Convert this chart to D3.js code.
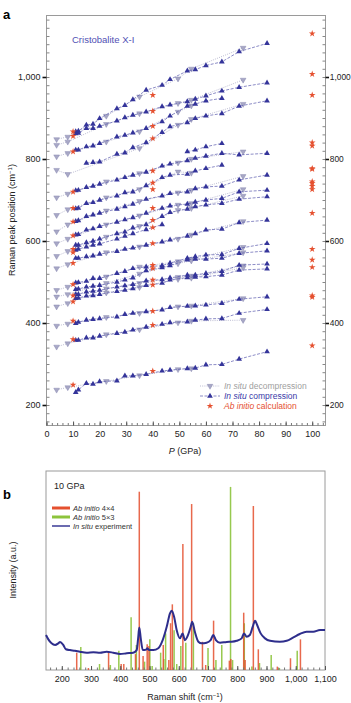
<!DOCTYPE html>
<html>
<head>
<meta charset="utf-8">
<script src="https://cdn.jsdelivr.net/npm/d3@7"></script>
<style>
  body { margin: 0; background: #fff; }
  svg { font-family: "Liberation Sans", Arial, sans-serif; }
</style>
</head>
<body>
<svg id="chart" width="351" height="703"></svg>
<script>
// ---- Panel a: Raman peak positions vs pressure ----
const compPressure = [11, 12, 15, 17.5, 20, 26.5, 29.5, 32.5, 37.5, 43.5, 46.5, 53, 56, 60, 66, 72.5, 83];
const decompPressure = [3.8, 8, 22.5, 35, 49.5, 54.5, 74];

// one row per Raman mode, in situ compression (null = not observed)
const compPeaks = [
  [867, 868, 883, 885, 899, 923, 931, 945, 968, 980, 994, 1015, 1018, 1028, 1037, 1062, 1082],
  [862, 863, 875, 875, 880, 893, 901, 907, 915, 928, 932, 940, 946, 954, 966, 975, 986],
  [822, 822, 830, 832, 838, 854, 858, 864, 875, 891, 905, 929, 934, 942, 948, null, null],
  [null, null, 790, 792, 793, 812, 815, 828, 840, 865, 879, 889, 899, 905, 911, 929, 942],
  [null, null, null, null, null, null, null, null, null, null, null, 818, 822, 830, 838, null, null],
  [723, 724, 731, 734, 739, 749, 755, 761, 768, 783, 788, 796, 802, 807, 814, 810, 814],
  [679, 680, 692, 694, 700, 710, 718, 720, 735, 755, 761, 763, 771, 777, 785, null, null],
  [648, 650, 660, 664, 668, 678, 684, 690, 702, 710, 716, 720, 728, 732, 734, 749, 761],
  [615, 616, 627, 630, 636, 646, 652, 657, 668, 680, 686, 690, 695, 700, 704, 720, 724],
  [590, 590, 596, 600, 605, 618, 622, 632, 640, 660, 670, 678, 684, 688, 692, 702, 708],
  [578, 580, 586, 590, 593, 605, 612, 618, 628, 640, null, null, null, null, null, null, null],
  [558, 558, 562, 564, 568, 575, 580, 583, 590, 598, 603, 612, 618, 627, 629, 645, 651],
  [498, 499, 502, 509, 509, 521, 526, 533, 537, 540, 546, 558, 562, 566, 567, 582, 594],
  [482, 483, 488, 490, 492, 500, 505, 510, 528, 535, 540, 554, 556, 556, 558, 570, 576],
  [470, 470, 476, 478, 480, 488, 491, 494, 503, 506, 510, 517, 517, 521, 526, 541, 544],
  [460, 461, 466, 467, 470, 477, 480, 484, 492, 497, 505, 511, 512, 513, 517, 529, 532],
  [399, 402, 407, 409, 411, 415, 421, 424, 428, 432, 438, 441, 442, 444, 448, 458, 464],
  [358, 358, 364, 364, 368, 375, 378, 383, 390, 397, 401, 403, 407, 410, 411, 424, 433],
  [231, 237, 253, 251, 257, 259, 271, 271, 275, 283, 285, 289, 290, 298, 299, 312, 330]
];

// in situ decompression, same modes
const decompPeaks = [
  [848, 854, 905, 952, 996, 1020, 1071],
  [834, 842, 885, 911, 936, 944, 993],
  [806, 814, 842, 867, 915, 930, null],
  [773, 763, null, 826, 883, 897, 934],
  [],
  [706, 715, 745, 765, 791, 800, 818],
  [663, 677, 706, 726, 769, 766, null],
  [623, 640, 674, 697, 718, 724, 758],
  [594, 605, 640, 662, 688, 692, 726],
  [563, 575, 610, 636, 675, 680, 710],
  [],
  [533, 543, 572, 586, 605, 615, 648],
  [480, 488, 513, 537, 550, 556, 585],
  [464, 470, 497, 520, 545, 552, 572],
  [440, 448, 484, 497, 512, 515, 540],
  [null, null, 474, 487, 507, 510, 535],
  [393, 398, 414, 424, 440, 442, 460],
  [342, 350, 372, 384, 401, 405, 407],
  [237, 243, 258, 272, 287, 289, null]
];

// ab initio calculation
const calcAt10 = [867, 856, 818, 720, 680, 647, 613, 580, 572, 546, 494, 467, 452, 405, 360, 249];
const calcAt40 = [956, 917, 880, 850, 771, 742, 726, 680, 651, 633, 594, 541, 533, 505, 493, 429, 395, 283];
const calcAt100 = [1106, 1007, 956, 840, 832, 777, 775, 745, 741, 734, 726, 668, 580, 554, 536, 467, 463, 345];

const pressureTicks = d3.range(0, 101, 10);
const ramanTicks = [200, 400, 600, 800, 1000];

// ---- Panel b: spectra at 10 GPa ----
const shiftTicks = [200, 300, 400, 500, 600, 700, 800, 900, 1000, 1100];
const red4x4Shift = [251, 291, 360, 403, 412, 452, 465, 478, 492, 498, 547, 566, 572, 578, 614, 644, 681, 692, 719, 773, 778, 822, 827, 855, 872, 937, 982, 1016];
const red4x4Int = [8.7, 1, 8.7, 3, 3, 8, 89.6, 7, 13, 12, 12.6, 5, 23.5, 33, 63.3, 83.4, 14.2, 2.5, 24.8, 4.7, 5.5, 28.8, 5, 82.4, 10.4, 1.7, 5.9, 15.4];
const green5x3Shift = [265, 329, 366, 395, 437, 455, 483, 501, 509, 538, 549, 555, 584, 593, 607, 624, 650, 700, 727, 747, 777, 784, 824, 850, 876, 916, 944, 1005];
const green5x3Int = [11.6, 3, 2.5, 9.7, 26.5, 12.6, 4.2, 15.4, 2, 8.7, 5.5, 18.4, 20, 3, 12, 13.7, 23.6, 11, 5, 12.6, 92, 5, 23.5, 1.7, 3.5, 7.5, 1, 9.7];
const expShift = [146, 154, 165, 177, 188, 194, 205, 214, 228, 245, 262, 285, 308, 331, 353, 376, 399, 422, 444, 456, 461, 465, 470, 477, 490, 492, 499, 513, 530, 545, 559, 570, 576, 584, 593, 604, 613, 621, 630, 641, 646, 655, 667, 678, 695, 709, 718, 727, 741, 764, 781, 798, 815, 823, 832, 843, 853, 861, 868, 880, 895, 912, 946, 969, 992, 1014, 1037, 1060, 1083, 1100];
const expInt = [17.6, 15.4, 13.4, 12.6, 13.4, 14.1, 12.6, 10.4, 10, 9.7, 9.2, 8.7, 8.9, 8.7, 9.2, 8.7, 8, 8.4, 8.7, 10, 15.9, 21.3, 15.9, 10, 10.4, 10.9, 10, 10, 10.9, 15, 21.8, 28.5, 29.8, 26.8, 20, 15.9, 18.4, 15, 17, 21.8, 24.3, 19.2, 14.2, 13.4, 13.7, 15, 17.6, 15, 13.7, 14.1, 14.2, 14.7, 15.9, 18.4, 16.7, 17.6, 21.8, 24.8, 22.6, 18.4, 15.9, 14.7, 14.2, 14.7, 16.4, 18.1, 19.2, 19.2, 20.1, 20.1];

const blue = "#34349a";
const grayMark = "#a8a8c6";
const red = "#e5502f";
const green = "#8cc43c";

const svg = d3.select('#chart');

function richText(g, x, y, parts, size, color, anchor) {
  // parts: [[text, italic], ...]
  let t = g.append('text')
    .attr('x', x).attr('y', y)
    .attr('font-size', size)
    .attr('fill', color)
    .attr('text-anchor', anchor || 'start');
  parts.forEach(p => {
    t.append('tspan').text(p[0]).attr('font-style', p[1] ? 'italic' : 'normal');
  });
  return t;
}

function drawPanelA() {
  let x = d3.scaleLinear().domain([0, 105]).range([46.5, 325.5]);
  let y = d3.scaleLinear().domain([150, 1150]).range([425.5, 15.5]);
  let g = svg.append('g');

  // frame
  g.append('rect')
    .attr('x', 46.5).attr('y', 15.5)
    .attr('width', 279).attr('height', 410)
    .attr('fill', 'none').attr('stroke', '#9a9a9a').attr('stroke-width', 1);

  // bottom axis: minor and major inner ticks
  g.append('g').attr('transform', 'translate(0,425.5)')
    .call(d3.axisBottom(x).tickValues(d3.range(0, 105, 2)).tickSize(-2.5).tickFormat(''))
    .call(a => a.select('.domain').remove())
    .call(a => a.selectAll('line').attr('stroke', '#777'));
  g.append('g').attr('transform', 'translate(0,425.5)')
    .call(d3.axisBottom(x).tickValues(pressureTicks).tickSize(-4).tickPadding(5))
    .call(a => a.select('.domain').remove())
    .call(a => a.selectAll('line').attr('stroke', '#555'))
    .call(a => a.selectAll('text').attr('font-size', 9).attr('fill', '#222')
      .attr('font-family', '"Liberation Sans", Arial, sans-serif'));

  // left and right axes
  [['L', 46.5], ['R', 325.5]].forEach(([side, pos]) => {
    let minorGen = side == 'L' ? d3.axisLeft(y) : d3.axisRight(y);
    g.append('g').attr('transform', `translate(${pos},0)`)
      .call(minorGen.tickValues(d3.range(160, 1150, 20)).tickSize(-3).tickFormat(''))
      .call(a => a.select('.domain').remove())
      .call(a => a.selectAll('line').attr('stroke', '#888'));
    let majorGen = side == 'L' ? d3.axisLeft(y) : d3.axisRight(y);
    g.append('g').attr('transform', `translate(${pos},0)`)
      .call(majorGen.tickValues(ramanTicks)
        .tickSize(side == 'L' ? 4 : 3.5)
        .tickPadding(side == 'L' ? 2 : 0.8)
        .tickFormat(d3.format(',')))
      .call(a => a.select('.domain').remove())
      .call(a => a.selectAll('line').attr('stroke', '#111').attr('stroke-width', 1.6))
      .call(a => a.selectAll('text').attr('font-size', side == 'L' ? 9 : 8.4).attr('fill', '#222')
        .attr('font-family', '"Liberation Sans", Arial, sans-serif'));
  });

  // axis titles
  let yt = g.append('text')
    .attr('transform', 'translate(15,220) rotate(-90)')
    .attr('text-anchor', 'middle').attr('font-size', 9).attr('fill', '#222');
  yt.append('tspan').text('Raman peak position (cm');
  yt.append('tspan').text('−1').attr('font-size', 6).attr('dy', -3.5);
  yt.append('tspan').text(')').attr('dy', 3.5);
  richText(g, 185, 454, [['P', true], [' (GPa)', false]], 9, '#222', 'middle');

  richText(g, 72, 43, [['Cristobalite X-I', false]], 9.5, '#5050b4');

  let line = d3.line().x(d => x(d[0])).y(d => y(d[1]));
  let upTri = d3.symbol(d3.symbolTriangle, 14);
  let star = d3.symbol(d3.symbolStar, 14);

  // decompression: dotted lines + down triangles
  decompPeaks.forEach(row => {
    let pts = row.map((v, i) => [decompPressure[i], v]).filter(d => d[1] != null);
    if (pts.length == 0) return;
    g.append('path').attr('d', line(pts))
      .attr('fill', 'none').attr('stroke', '#a0a0c0')
      .attr('stroke-width', 0.7).attr('stroke-dasharray', '1,1.2');
    g.selectAll(null).data(pts).join('path')
      .attr('d', upTri)
      .attr('transform', d => `translate(${x(d[0])},${y(d[1])}) rotate(180)`)
      .attr('fill', grayMark).attr('stroke', '#7c7caa').attr('stroke-width', 0.4);
  });

  // compression: dashed lines + up triangles
  compPeaks.forEach(row => {
    let pts = row.map((v, i) => [compPressure[i], v]).filter(d => d[1] != null);
    g.append('path').attr('d', line(pts))
      .attr('fill', 'none').attr('stroke', '#5a5aae')
      .attr('stroke-width', 0.7).attr('stroke-dasharray', '3,1.5');
    g.selectAll(null).data(pts).join('path')
      .attr('d', upTri)
      .attr('transform', d => `translate(${x(d[0])},${y(d[1])})`)
      .attr('fill', blue);
  });

  // ab initio stars
  let calc = [];
  calcAt10.forEach(v => calc.push([10, v]));
  calcAt40.forEach(v => calc.push([40, v]));
  calcAt100.forEach(v => calc.push([100, v]));
  g.selectAll(null).data(calc).join('path')
    .attr('d', star)
    .attr('transform', d => `translate(${x(d[0])},${y(d[1])})`)
    .attr('fill', red);

  // legend
  let lg = g.append('g');
  let rows = [
    {y: 386, kind: 'decomp', color: '#a0a0a0', label: [['In situ', true], [' decompression', false]]},
    {y: 396, kind: 'comp', color: '#3a3aa8', label: [['In situ', true], [' compression', false]]},
    {y: 406, kind: 'calc', color: red, label: [['Ab initio', true], [' calculation', false]]}
  ];
  rows.forEach(r => {
    if (r.kind == 'decomp') {
      lg.append('line').attr('x1', 200).attr('x2', 220).attr('y1', r.y).attr('y2', r.y)
        .attr('stroke', '#a0a0c0').attr('stroke-width', 0.7).attr('stroke-dasharray', '1,1.2');
      lg.append('path').attr('d', upTri).attr('transform', `translate(210,${r.y}) rotate(180)`)
        .attr('fill', grayMark).attr('stroke', '#7c7caa').attr('stroke-width', 0.4);
    } else if (r.kind == 'comp') {
      lg.append('line').attr('x1', 200).attr('x2', 220).attr('y1', r.y).attr('y2', r.y)
        .attr('stroke', '#5a5aae').attr('stroke-width', 0.7).attr('stroke-dasharray', '3,1.5');
      lg.append('path').attr('d', upTri).attr('transform', `translate(210,${r.y})`).attr('fill', blue);
    } else {
      lg.append('path').attr('d', star).attr('transform', `translate(210,${r.y})`).attr('fill', red);
    }
    richText(lg, 224, r.y + 3, r.label, 8.5, r.color);
  });

  svg.append('text').attr('x', 3).attr('y', 19).text('a')
    .attr('font-size', 13).attr('font-weight', 'bold');
}

function drawPanelB() {
  let x = d3.scaleLinear().domain([146, 1100]).range([46, 325]);
  let y = d3.scaleLinear().domain([0, 100]).range([670, 471]);
  let g = svg.append('g');

  g.append('rect')
    .attr('x', 46).attr('y', 471).attr('width', 279).attr('height', 199)
    .attr('fill', 'none').attr('stroke', '#9a9a9a').attr('stroke-width', 1);

  // bars
  let red4x4 = red4x4Shift.map((s, i) => [s, red4x4Int[i]]);
  let green5x3 = green5x3Shift.map((s, i) => [s, green5x3Int[i]]);
  g.selectAll(null).data(green5x3).join('line')
    .attr('x1', d => x(d[0])).attr('x2', d => x(d[0]))
    .attr('y1', y(0)).attr('y2', d => y(d[1]))
    .attr('stroke', green).attr('stroke-width', 1.5).attr('opacity', 0.9);
  g.selectAll(null).data(red4x4).join('line')
    .attr('x1', d => x(d[0])).attr('x2', d => x(d[0]))
    .attr('y1', y(0)).attr('y2', d => y(d[1]))
    .attr('stroke', red).attr('stroke-width', 1.5).attr('opacity', 0.85);

  // experiment
  let exp = expShift.map((s, i) => [s, expInt[i]]);
  g.append('path')
    .attr('d', d3.line().x(d => x(d[0])).y(d => y(d[1])).curve(d3.curveMonotoneX)(exp))
    .attr('fill', 'none').attr('stroke', '#2e2e8c').attr('stroke-width', 2);

  // axis
  g.append('g').attr('transform', 'translate(0,670)')
    .call(d3.axisBottom(x).tickValues(d3.range(160, 1100, 20)).tickSize(-2.5).tickFormat(''))
    .call(a => a.select('.domain').remove())
    .call(a => a.selectAll('line').attr('stroke', '#777'));
  g.append('g').attr('transform', 'translate(0,670)')
    .call(d3.axisBottom(x).tickValues(shiftTicks).tickSize(-4).tickPadding(6).tickFormat(d3.format(',')))
    .call(a => a.select('.domain').remove())
    .call(a => a.selectAll('line').attr('stroke', '#555'))
    .call(a => a.selectAll('text').attr('font-size', 9).attr('fill', '#222')
      .attr('font-family', '"Liberation Sans", Arial, sans-serif'));

  let xt = g.append('text').attr('x', 185).attr('y', 700)
    .attr('text-anchor', 'middle').attr('font-size', 9).attr('fill', '#222');
  xt.append('tspan').text('Raman shift (cm');
  xt.append('tspan').text('−1').attr('font-size', 6).attr('dy', -3.5);
  xt.append('tspan').text(')').attr('dy', 3.5);

  g.append('text').attr('transform', 'translate(16,570) rotate(-90)')
    .attr('text-anchor', 'middle').attr('font-size', 9).attr('fill', '#222')
    .text('Intensity (a.u.)');

  g.append('text').attr('x', 54).attr('y', 489).attr('font-size', 9).attr('fill', '#222').text('10 GPa');

  // legend
  let items = [
    {y: 508, color: red, w: 3, label: [['Ab initio', true], [' 4×4', false]]},
    {y: 517, color: green, w: 3, label: [['Ab initio', true], [' 5×3', false]]},
    {y: 526, color: '#3a3a96', w: 1.5, label: [['In situ', true], [' experiment', false]]}
  ];
  items.forEach(it => {
    g.append('line').attr('x1', 52).attr('x2', 70).attr('y1', it.y).attr('y2', it.y)
      .attr('stroke', it.color).attr('stroke-width', it.w);
    richText(g, 73, it.y + 2.5, it.label, 7.5, '#333');
  });

  svg.append('text').attr('x', 3).attr('y', 499).text('b')
    .attr('font-size', 13).attr('font-weight', 'bold');
}

drawPanelA();
drawPanelB();
</script>
</body>
</html>
